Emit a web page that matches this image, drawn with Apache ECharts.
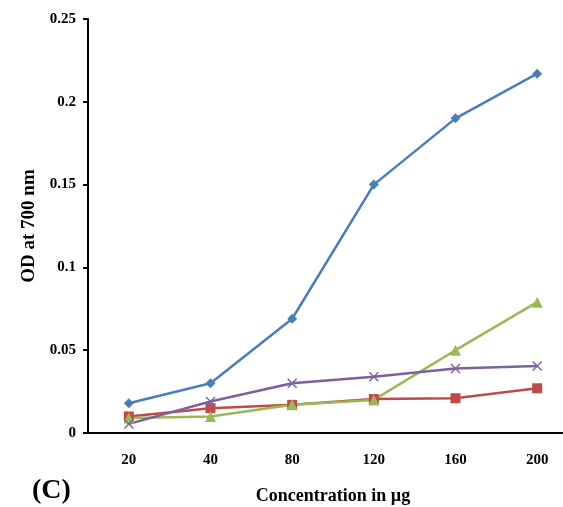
<!DOCTYPE html>
<html>
<head>
<meta charset="utf-8">
<script src="https://cdn.jsdelivr.net/npm/echarts@6/dist/echarts.min.js"></script>
<style>
  html, body { margin: 0; padding: 0; background: #fff; }
  #chart { width: 563px; height: 507px; }
</style>
</head>
<body>
<div id="chart"></div>
<script>
const categories = ['20', '40', '80', '120', '160', '200'];
const blueSeries = [0.018, 0.030, 0.069, 0.150, 0.190, 0.217];
const redSeries = [0.010, 0.015, 0.017, 0.0205, 0.021, 0.027];
const greenSeries = [0.009, 0.010, 0.017, 0.020, 0.050, 0.079];
const purpleSeries = [0.0055, 0.019, 0.030, 0.034, 0.039, 0.0405];

const font = 'Liberation Serif';
// X-shaped marker
const crossPath = 'path://M0,1L1,0L5,4L9,0L10,1L6,5L10,9L9,10L5,6L1,10L0,9L4,5Z';

function line(data, color, symbol, size) {
  return {
    type: 'line',
    data: data,
    symbol: symbol,
    symbolSize: size,
    lineStyle: { color: color, width: 2.5 },
    itemStyle: { color: color },
    emphasis: { disabled: true }
  };
}

let myChart = echarts.init(document.getElementById('chart'));
myChart.setOption({
  animation: false,
  grid: { left: 88, top: 19, bottom: 74, right: -15, containLabel: false, outerBoundsMode: 'none' },
  xAxis: {
    type: 'category',
    boundaryGap: true,
    data: categories,
    name: 'Concentration in µg',
    nameLocation: 'middle',
    nameGap: 54,
    nameTextStyle: { fontFamily: font, fontWeight: 'bold', fontSize: 18, color: '#000' },
    axisLine: { lineStyle: { color: '#000', width: 2 } },
    axisTick: { show: false },
    axisLabel: { fontFamily: font, fontWeight: 'bold', fontSize: 15, color: '#000', margin: 20 }
  },
  yAxis: {
    type: 'value',
    min: 0,
    max: 0.25,
    interval: 0.05,
    name: 'OD at 700 nm',
    nameLocation: 'middle',
    nameGap: 48,
    nameTextStyle: { fontFamily: font, fontWeight: 'bold', fontSize: 19, color: '#000' },
    axisLine: { show: true, lineStyle: { color: '#000', width: 2 } },
    axisTick: { show: true, length: 5, lineStyle: { color: '#000', width: 2 } },
    splitLine: { show: false },
    axisLabel: { fontFamily: font, fontWeight: 'bold', fontSize: 15, color: '#000', margin: 12 }
  },
  graphic: [{
    type: 'text',
    left: 32,
    top: 477,
    style: { text: '(C)', font: 'bold 28px "Liberation Serif"', fill: '#000' }
  }],
  series: [
    line(blueSeries, '#4A7EBB', 'diamond', 10),
    line(redSeries, '#BE4B48', 'rect', 10),
    line(greenSeries, '#98B954', 'triangle', 11),
    line(purpleSeries, '#7D60A0', crossPath, 10)
  ]
});
</script>
</body>
</html>
